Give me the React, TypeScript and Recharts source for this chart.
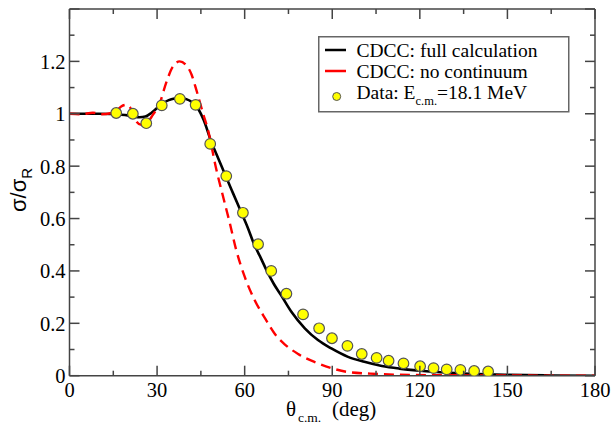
import { ComposedChart, Line, Scatter, XAxis, YAxis, ReferenceLine, Legend } from "recharts";

// CDCC full calculation (theta c.m. in deg, sigma/sigma_R)
const fullAngles = [0, 5, 10, 14, 17, 20, 22, 24, 26, 28, 30, 32, 34, 36, 38, 40, 42, 44, 46, 48.5, 51, 53.5, 56, 58.9, 61, 63.2, 65.5, 67.6, 70, 72.6, 76, 80.6, 85.1, 89.7, 95.4, 101, 107, 113, 120, 130, 140, 150, 165, 180];
const fullRatio = [1, 1, 1, 0.999, 0.997, 0.994, 0.99, 0.987, 0.99, 1.003, 1.022, 1.04, 1.052, 1.058, 1.06, 1.056, 1.044, 1.02, 0.975, 0.895, 0.828, 0.762, 0.697, 0.622, 0.567, 0.503, 0.45, 0.4, 0.35, 0.305, 0.244, 0.181, 0.136, 0.104, 0.072, 0.053, 0.037, 0.027, 0.019, 0.011, 0.006, 0.003, 0.001, 0];

// CDCC without continuum
const noContAngles = [0, 4, 8, 11, 14, 16, 17.7, 19.4, 21, 22.3, 24.6, 26.5, 28.5, 30.9, 33.1, 35.4, 37.7, 40, 41.8, 43.4, 45.7, 47.4, 50.3, 52.6, 54.9, 57.1, 60, 63.4, 67.2, 70.3, 73.7, 78.3, 84, 89.7, 95.4, 103, 112, 125, 145, 180];
const noContRatio = [1, 0.998, 1.004, 0.998, 1.002, 1.01, 1.028, 1.034, 1.02, 0.982, 0.958, 0.965, 0.995, 1.04, 1.118, 1.18, 1.2, 1.185, 1.15, 1.093, 1.003, 0.94, 0.787, 0.684, 0.583, 0.48, 0.378, 0.289, 0.215, 0.16, 0.12, 0.083, 0.052, 0.029, 0.014, 0.008, 0.004, 0.002, 0.001, 0];

// measured data, E c.m. = 18.1 MeV
const dataAngles = [16.0, 21.7, 26.3, 31.6, 37.8, 43.2, 48.2, 53.7, 59.4, 64.6, 69.1, 74.3, 80.0, 85.5, 89.9, 95.2, 100.1, 105.2, 109.3, 114.4, 120.1, 124.7, 129.2, 133.9, 138.6, 143.4];
const dataRatio = [1.003, 1.0, 0.964, 1.032, 1.057, 1.034, 0.885, 0.762, 0.622, 0.502, 0.4, 0.313, 0.234, 0.181, 0.143, 0.114, 0.083, 0.068, 0.057, 0.047, 0.036, 0.029, 0.024, 0.022, 0.018, 0.016];

const xTicks = [0, 15, 30, 45, 60, 75, 90, 105, 120, 135, 150, 165, 180];
const yTicks = [0, 0.1, 0.2, 0.3, 0.4, 0.5, 0.6, 0.7, 0.8, 0.9, 1, 1.1, 1.2, 1.3, 1.4];

const fullCurve = fullAngles.map((x, i) => ({ x, y: fullRatio[i] }));
const noContCurve = noContAngles.map((x, i) => ({ x, y: noContRatio[i] }));
const points = dataAngles.map((x, i) => ({ x, y: dataRatio[i] }));

const W = 613;
const H = 424;
const TOP = 9;
const RIGHT = 18;
const Y_AXIS_W = 69.5;
const X_AXIS_H = 48.3;
const PLOT_W = W - Y_AXIS_W - RIGHT;
const PLOT_H = H - TOP - X_AXIS_H;

const FRAME = "#444";
const SERIF = "Liberation Serif, DejaVu Serif, Times, serif";
const SANS = "Liberation Sans, Arial, sans-serif";

const XTick = ({ x, y, payload }: any) => {
  const v = payload.value;
  const major = v % 30 === 0;
  const len = major ? 10 : 5;
  return (
    <g>
      <line x1={x} x2={x} y1={y} y2={y - len} stroke={FRAME} strokeWidth={1.5} />
      <line x1={x} x2={x} y1={y - PLOT_H} y2={y - PLOT_H + len} stroke={FRAME} strokeWidth={1.5} />
      {major && (
        <text x={x} y={y + 21} textAnchor="middle" fontFamily={SERIF} fontSize={20.5} fill="#000">
          {v}
        </text>
      )}
    </g>
  );
};

const YTick = ({ x, y, payload }: any) => {
  const v = payload.value;
  const major = Math.round(v * 10) % 2 === 0;
  const len = major ? 10 : 5;
  return (
    <g>
      <line x1={x} x2={x + len} y1={y} y2={y} stroke={FRAME} strokeWidth={1.5} />
      <line x1={x + PLOT_W} x2={x + PLOT_W - len} y1={y} y2={y} stroke={FRAME} strokeWidth={1.5} />
      {major && v < 1.35 && (
        <text x={x - 4} y={y + 7.5} textAnchor="end" fontFamily={SERIF} fontSize={20.5} fill="#000">
          {v}
        </text>
      )}
    </g>
  );
};

const LegendBox = () => (
  <svg width={252} height={77} style={{ display: "block" }}>
    <rect x={0.75} y={0.75} width={250} height={75} fill="#fff" stroke="#666" strokeWidth={1.5} />
    <line x1={7} x2={28} y1={14} y2={14} stroke="#000" strokeWidth={2.5} />
    <text x={38.5} y={21.3} fontFamily={SERIF} fontSize={19.5} fill="#000">CDCC: full calculation</text>
    <line x1={7} x2={28} y1={35} y2={35} stroke="#ff0000" strokeWidth={2.5} />
    <text x={38.5} y={41.8} fontFamily={SERIF} fontSize={19.5} fill="#000">CDCC: no continuum</text>
    <circle cx={18.7} cy={60.5} r={4} fill="#ffff00" stroke="#555" strokeWidth={1} />
    <text x={38.5} y={63} fontFamily={SERIF} fontSize={19.5} fill="#000">
      Data: E<tspan dy={6} fontSize={12.5}>c.m.</tspan>
      <tspan dy={-6}>=18.1 MeV</tspan>
    </text>
  </svg>
);

const YLabel = () => (
  <text
    x={26}
    y={190}
    textAnchor="middle"
    transform="rotate(-90 26 190)"
    fontFamily={SANS}
    fontSize={22}
    fill="#000"
  >
    σ/σ<tspan dy={6} fontSize={15}>R</tspan>
  </text>
);

const XLabel = () => (
  <g fontFamily={SERIF} fill="#000">
    <text x={286} y={416} fontSize={21}>θ</text>
    <text x={298} y={422} fontSize={13.5}>c.m.</text>
    <text x={332} y={416} fontSize={21}>(deg)</text>
  </g>
);

const Dot = ({ cx, cy }: any) => (
  <circle cx={cx} cy={cy} r={5.3} fill="#ffff00" stroke="#555" strokeWidth={1.2} />
);

export default function App() {
  return (
    <div style={{ position: "absolute", left: 0, top: 0, width: W, height: H, background: "#fff" }}>
      <ComposedChart width={W} height={H} margin={{ top: TOP, right: RIGHT, bottom: 0, left: 0 }}>
        <XAxis
          dataKey="x"
          type="number"
          domain={[0, 180]}
          ticks={xTicks}
          interval={0}
          tickSize={0}
          tickMargin={0}
          tickLine={false}
          tick={<XTick />}
          height={X_AXIS_H}
          axisLine={{ stroke: FRAME, strokeWidth: 1.5 }}
          allowDataOverflow
          label={{ content: () => <XLabel /> }}
        />
        <YAxis
          type="number"
          domain={[0, 1.4]}
          ticks={yTicks}
          interval={0}
          tickSize={0}
          tickMargin={0}
          tickLine={false}
          tick={<YTick />}
          width={Y_AXIS_W}
          axisLine={{ stroke: FRAME, strokeWidth: 1.5 }}
          allowDataOverflow
          label={{ content: () => <YLabel /> }}
        />
        <ReferenceLine y={1.4} stroke={FRAME} strokeWidth={1.5} />
        <ReferenceLine x={180} stroke={FRAME} strokeWidth={1.5} />
        <Line
          data={fullCurve}
          dataKey="y"
          type="monotone"
          stroke="#000"
          strokeWidth={2.6}
          dot={false}
          activeDot={false}
          isAnimationActive={false}
          name="CDCC: full calculation"
        />
        <Line
          data={noContCurve}
          dataKey="y"
          type="monotone"
          stroke="#ff0000"
          strokeWidth={2.4}
          strokeDasharray="10 6"
          dot={false}
          activeDot={false}
          isAnimationActive={false}
          name="CDCC: no continuum"
        />
        <Scatter
          data={points}
          dataKey="y"
          shape={<Dot />}
          isAnimationActive={false}
          name="Data"
        />
        <Legend
          layout="horizontal"
          verticalAlign="middle"
          align="center"
          content={() => <LegendBox />}
          wrapperStyle={{ position: "absolute", left: 317.5, top: 36, width: 252, height: 77 }}
        />
      </ComposedChart>
    </div>
  );
}
